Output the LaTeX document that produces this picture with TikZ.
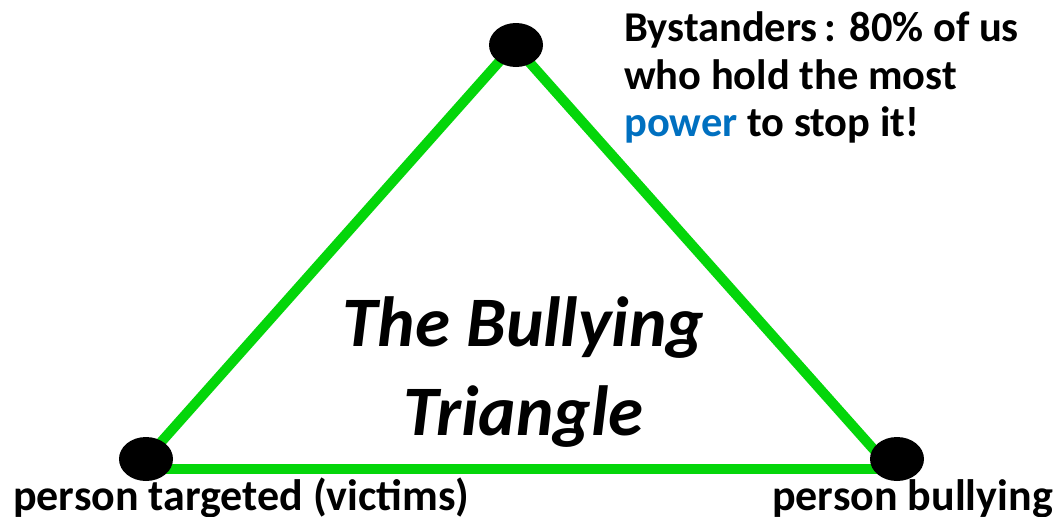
\documentclass[tikz,border=0pt]{standalone}
\usepackage{fontspec}
\setmainfont{Carlito}
\definecolor{tgreen}{RGB}{4,214,10}
\definecolor{pblue}{RGB}{0,112,192}
\tikzset{
  vertex/.style={draw=none,fill=black,ellipse,minimum width=54pt,minimum height=44pt,inner sep=0pt},
  edge/.style={draw=tgreen,line width=10pt},
  lbl/.style={inner sep=0pt,anchor=base west,font=\fontsize{42.5}{50}\selectfont\bfseries},
  bot/.style={inner sep=0pt,anchor=base west,font=\fontsize{44}{50}\selectfont\bfseries},
  ttl/.style={inner sep=0pt,anchor=base,font=\fontsize{71}{80}\selectfont\bfseries\itshape},
}
\usetikzlibrary{shapes.geometric}
\begin{document}
\begin{tikzpicture}[x=1pt,y=-1pt]
\useasboundingbox[fill=white] (0,0) rectangle (1053,517);
\coordinate (ltop) at (514,45);
\coordinate (lend) at (146,459);
\coordinate (rend) at (884,461);
\coordinate (bl) at (150,469);
\coordinate (br) at (895,469);
\draw[edge] (ltop) -- (lend);
\draw[edge] (ltop) -- (rend);
\draw[edge] (bl) -- (br);
\node[vertex] (top) at (516,45) {};
\node[vertex] (left) at (146,459) {};
\node[vertex] (right) at (897,459) {};
\node[lbl] (b1) at (624,41) {Bystanders\,: 80\% of us};
\node[lbl] (b2) at (624,89) {who hold the most};
\node[lbl] (b3) at (624,136) {\textcolor{pblue}{power} to stop it!};
\node[ttl] (t1) at (523.5,346) {The Bullying};
\node[ttl] (t2) at (523.5,435) {Triangle};
\node[bot] (v) at (13,510) {person targeted (victims)};
\node[bot] (p) at (772,510) {person bullying};
\end{tikzpicture}
\end{document}
